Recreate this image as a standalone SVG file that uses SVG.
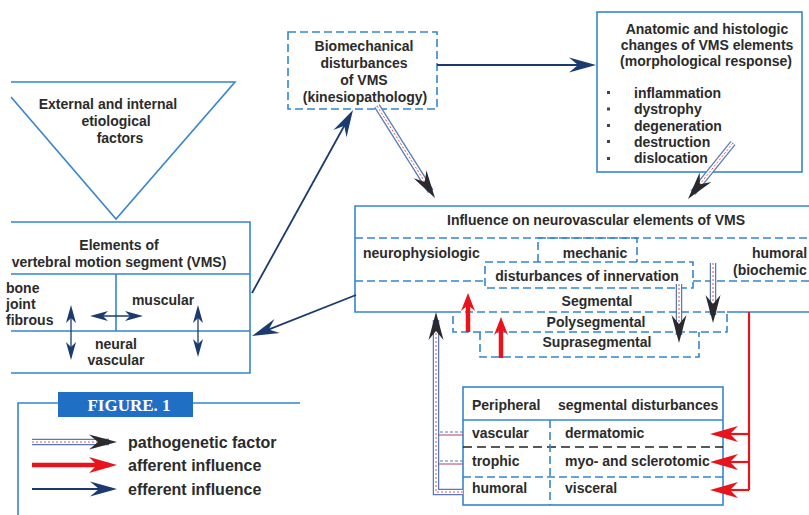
<svg xmlns="http://www.w3.org/2000/svg" width="809" height="515" viewBox="0 0 809 515">
<style>
.t{font-family:"Liberation Sans",Arial,sans-serif;font-size:14px;font-weight:bold;fill:#2b2b2b}
.c{text-anchor:middle}
.lg{font-size:16px}
.fig{font-family:"Liberation Serif","Times New Roman",serif;font-size:17px;font-weight:bold;fill:#ffffff;text-anchor:middle}
.b{fill:none;stroke:#3585d0;stroke-width:1.6}
.d{fill:none;stroke:#3585d0;stroke-width:1.6;stroke-dasharray:8 4}
.dk{fill:none;stroke:#222222;stroke-width:1.6;stroke-dasharray:9 5}
.nv{fill:none;stroke:#1b3a6e;stroke-width:1.8}
.nvs{fill:none;stroke:#1b3a6e;stroke-width:1.3}
.rd{fill:none;stroke:#e8141b;stroke-width:2.2}
.rdt{fill:none;stroke:#e8141b;stroke-width:4.5}
.p1{fill:none;stroke:#5a78b4;stroke-width:6.5}
.p2{fill:none;stroke:#ffffff;stroke-width:4}
.p3{fill:none;stroke:#d0404c;stroke-width:0.9;stroke-dasharray:2 2}
.q1{fill:none;stroke:#4d7bc0;stroke-width:1;stroke-dasharray:3 2}
.q2{fill:none;stroke:#b04060;stroke-width:1}
</style>
<defs>
<marker id="mNavy" viewBox="-30 -9 32 18" markerWidth="32" markerHeight="18" refX="-6" refY="0" orient="auto" markerUnits="userSpaceOnUse">
<path d="M0,0 L-27,-7.5 L-18,0 L-27,7.5 Z" fill="#1b3a6e"/>
</marker>
<marker id="mNavyS" viewBox="-20 -7 22 14" markerWidth="22" markerHeight="14" refX="-4" refY="0" orient="auto-start-reverse" markerUnits="userSpaceOnUse">
<path d="M0,0 L-18,-5 L-13,0 L-18,5 Z" fill="#1b3a6e"/>
</marker>
<marker id="mPatho" viewBox="-30 -9 32 18" markerWidth="32" markerHeight="18" refX="-8" refY="0" orient="auto" markerUnits="userSpaceOnUse">
<path d="M0,0 L-28,-7.5 L-19,0 L-28,7.5 Z" fill="#2a2a2e"/>
</marker>
<marker id="mRed" viewBox="-30 -10 32 20" markerWidth="32" markerHeight="20" refX="-8" refY="0" orient="auto" markerUnits="userSpaceOnUse">
<path d="M0,0 L-28,-8 L-20,0 L-28,8 Z" fill="#e8141b"/>
</marker>
<marker id="mRedS" viewBox="-20 -8 22 16" markerWidth="22" markerHeight="16" refX="-8" refY="0" orient="auto" markerUnits="userSpaceOnUse">
<path d="M0,0 L-18,-7 L-12,0 L-18,7 Z" fill="#e8141b"/>
</marker>
</defs>
<rect x="0" y="0" width="809" height="515" fill="#ffffff"/>

<g id="etiological-factors">
<polyline class="b" points="11,97 116,219 235,82 11,82"/>
<text class="t c" x="108" y="109">External and internal</text>
<text class="t c" x="116" y="126">etiological</text>
<text class="t c" x="120" y="143">factors</text>
</g>

<g id="biomechanical">
<rect class="d" x="288" y="32" width="149" height="77"/>
<text class="t c" x="364" y="51">Biomechanical</text>
<text class="t c" x="364" y="68">disturbances</text>
<text class="t c" x="364" y="85">of VMS</text>
<text class="t c" x="365" y="102">(kinesiopathology)</text>
</g>

<g id="anatomic">
<rect class="b" x="597" y="12" width="205" height="160"/>
<text class="t c" x="707" y="34">Anatomic and histologic</text>
<text class="t c" x="707" y="50">changes of VMS elements</text>
<text class="t c" x="706" y="66">(morphological response)</text>
<g fill="#444444">
<rect x="607" y="91" width="3" height="3"/>
<rect x="607" y="107.5" width="3" height="3"/>
<rect x="607" y="124" width="3" height="3"/>
<rect x="607" y="140" width="3" height="3"/>
<rect x="607" y="157" width="3" height="3"/>
</g>
<text class="t" x="634" y="98">inflammation</text>
<text class="t" x="634" y="114">dystrophy</text>
<text class="t" x="634" y="131">degeneration</text>
<text class="t" x="634" y="147">destruction</text>
<text class="t" x="634" y="163">dislocation</text>
</g>

<g id="vms-elements">
<path class="b" d="M11,222 H250 V373 H11 M11,274 H250 M11,331 H250 M116,274 V331"/>
<text class="t c" x="119" y="250">Elements of</text>
<text class="t c" x="119" y="267">vertebral motion segment (VMS)</text>
<text class="t" x="6" y="293">bone</text>
<text class="t" x="6" y="309">joint</text>
<text class="t" x="6" y="325">fibrous</text>
<text class="t c" x="163" y="305">muscular</text>
<text class="t c" x="116" y="349">neural</text>
<text class="t c" x="116" y="365">vascular</text>
<path class="nvs" d="M71,309 V356" marker-start="url(#mNavyS)" marker-end="url(#mNavyS)"/>
<path class="nvs" d="M94,316 H139" marker-start="url(#mNavyS)" marker-end="url(#mNavyS)"/>
<path class="nvs" d="M198,309 V353" marker-start="url(#mNavyS)" marker-end="url(#mNavyS)"/>
</g>

<g id="influence">
<path class="b" d="M809,206 H355 V312 H453 M727,312 H809"/>
<path class="d" d="M355,238 H809"/>
<path class="d" d="M538,262 V238 H637 V262"/>
<rect class="d" x="485" y="262" width="208" height="26"/>
<path class="d" d="M355,281 H485 M693,281 H809"/>
<rect class="d" x="453" y="312" width="274" height="20"/>
<path class="d" d="M480,332 V357 H699 V332"/>
<text class="t c" x="596" y="225">Influence on neurovascular elements of VMS</text>
<text class="t" x="363" y="258">neurophysiologic</text>
<text class="t c" x="595" y="258">mechanic</text>
<text class="t" x="752" y="258">humoral</text>
<text class="t" x="733" y="275">(biochemic</text>
<text class="t c" x="587" y="281">disturbances of innervation</text>
<text class="t c" x="597" y="306">Segmental</text>
<text class="t c" x="596" y="327">Polysegmental</text>
<text class="t c" x="597" y="347">Suprasegmental</text>
</g>

<g id="peripheral">
<rect class="b" x="463" y="387" width="260" height="118"/>
<path class="b" d="M463,420 H723"/>
<path class="dk" d="M463,447 H723"/>
<path class="d" d="M463,477 H723"/>
<path class="d" d="M550,420 V505"/>
<text class="t" x="472" y="410">Peripheral</text>
<text class="t" x="558" y="410">segmental disturbances</text>
<text class="t" x="472" y="438">vascular</text>
<text class="t" x="565" y="438">dermatomic</text>
<text class="t" x="472" y="466">trophic</text>
<text class="t" x="565" y="466">myo- and sclerotomic</text>
<text class="t" x="472" y="493">humoral</text>
<text class="t" x="565" y="493">visceral</text>
</g>

<g id="connectors">
<path class="nv" d="M437,65 H590" marker-end="url(#mNavy)"/>
<path class="nv" d="M252,293 L350.1,115.3" marker-end="url(#mNavy)"/>
<path class="nv" d="M356,295 L257.6,333.8" marker-end="url(#mNavy)"/>

<path class="p1" d="M377,106 L430.7,191.2"/>
<path class="p2" d="M377,106 L430.7,191.2"/>
<path class="p3" d="M377,106 L430.7,191.2" marker-end="url(#mPatho)"/>

<path class="p1" d="M733,143 L693,192.8"/>
<path class="p2" d="M733,143 L693,192.8"/>
<path class="p3" d="M733,143 L693,192.8" marker-end="url(#mPatho)"/>

<path class="p1" d="M679,284 V335"/>
<path class="p2" d="M679,284 V335"/>
<path class="p3" d="M679,284 V335" marker-end="url(#mPatho)"/>

<path class="p1" d="M713,263 V315"/>
<path class="p2" d="M713,263 V315"/>
<path class="p3" d="M713,263 V315" marker-end="url(#mPatho)"/>

<path class="q1" d="M463,432 H436 M463,461 H436"/>
<path class="q2" d="M463,435 H436 M463,464 H436"/>
<path class="p1" d="M463,492 H436 V320"/>
<path class="p2" d="M463,492 H436 V320"/>
<path class="p3" d="M463,492 H436 V320" marker-end="url(#mPatho)"/>

<path class="rdt" d="M468,332 V301" marker-end="url(#mRedS)"/>
<path class="rdt" d="M501,358 V325" marker-end="url(#mRedS)"/>

<path class="rd" d="M749,312 V490"/>
<path class="rd" d="M749,434 H718" marker-end="url(#mRed)"/>
<path class="rd" d="M749,462 H718" marker-end="url(#mRed)"/>
<path class="rd" d="M749,490 H718" marker-end="url(#mRed)"/>
</g>

<g id="legend">
<path class="b" d="M18,515 V403 H58 M193,403 H300"/>
<rect x="58" y="392" width="135" height="25" fill="#1f6fc5"/>
<text class="fig" x="129" y="411">FIGURE. 1</text>
<path class="p1" d="M32,442 H109"/>
<path class="p2" d="M32,442 H109"/>
<path class="p3" d="M32,442 H109" marker-end="url(#mPatho)"/>
<path class="rdt" d="M32,465 H109" marker-end="url(#mRed)"/>
<path class="nv" d="M32,489 H111" marker-end="url(#mNavy)"/>
<text class="t lg" x="128" y="448">pathogenetic factor</text>
<text class="t lg" x="128" y="471">afferent influence</text>
<text class="t lg" x="128" y="495">efferent influence</text>
</g>
</svg>
